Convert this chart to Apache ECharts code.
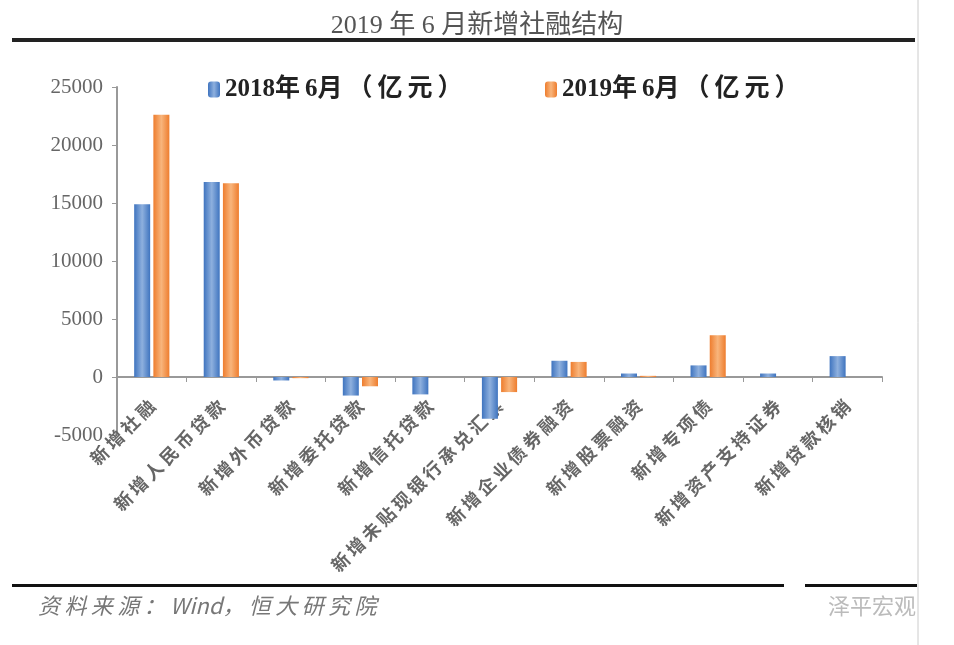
<!DOCTYPE html>
<html>
<head>
<meta charset="utf-8">
<script src="https://cdn.jsdelivr.net/npm/echarts@6/dist/echarts.min.js"></script>
<style>
html, body { margin: 0; padding: 0; background: #fff; }
#chart { width: 954px; height: 645px; }
</style>
</head>
<body>
<div id="chart"></div>
<script>
// 分类
var categories = ['新增社融', '新增人民币贷款', '新增外币贷款', '新增委托贷款', '新增信托贷款',
	'新增未贴现银行承兑汇票', '新增企业债券融资', '新增股票融资', '新增专项债', '新增资产支持证券', '新增贷款核销'];
// 2018年6月（亿元）
var values2018 = [14900, 16800, -300, -1600, -1500, -3600, 1400, 300, 1000, 300, 1800];
// 2019年6月（亿元）
var values2019 = [22600, 16700, -100, -800, 0, -1300, 1300, 100, 3600, 0, 0];
var yTicks = [-5000, 25000, 5000]; // min, max, interval

var serif = '"Liberation Serif", "Noto Sans CJK SC", serif';

function barColor(edge, mid) {
	return {
		type: 'linear', x: 0, y: 0, x2: 1, y2: 0,
		colorStops: [
			{ offset: 0, color: edge },
			{ offset: 0.5, color: mid },
			{ offset: 1, color: edge }
		]
	};
}
// 字间加细空格，模仿原图较松的字距
function spaced(s) {
	return s.split('').join('\u2009');
}
// 只在汉字后加细空格，数字保持紧凑
function spacedCJK(s) {
	return s.replace(/([^\x00-\x7f])/g, '$1\u2009');
}

var legendText = { fontFamily: serif, fontSize: 25, fontWeight: 'bold', color: '#222' };

var chart = echarts.init(document.getElementById('chart'));
chart.setOption({
	backgroundColor: '#fff',
	animation: false,
	title: {
		text: '2019 年 6 月新增社融结构',
		left: 'center',
		top: 8,
		textStyle: { fontFamily: serif, fontSize: 26, fontWeight: 'normal', color: '#555' }
	},
	legend: [
		{
			top: 72, left: 203, itemWidth: 12, itemHeight: 16,
			textStyle: legendText,
			formatter: spacedCJK,
			data: ['2018年6月（亿元）']
		},
		{
			top: 72, left: 540, itemWidth: 12, itemHeight: 16,
			textStyle: legendText,
			formatter: spacedCJK,
			data: ['2019年6月（亿元）']
		}
	],
	grid: { left: 117, right: 72, top: 87, bottom: 210 },
	xAxis: {
		type: 'category',
		data: categories,
		axisLine: { onZero: true, lineStyle: { color: '#999', width: 2 } },
		axisTick: { show: true, length: 5, lineStyle: { color: '#999' } },
		axisLabel: {
			rotate: 45,
			interval: 0,
			margin: -32,
			fontFamily: '"Noto Sans CJK SC", sans-serif',
			fontSize: 18,
			fontWeight: 'bold',
			color: '#666',
			formatter: spaced
		}
	},
	yAxis: {
		type: 'value',
		min: yTicks[0],
		max: yTicks[1],
		interval: yTicks[2],
		axisLine: { show: true, lineStyle: { color: '#999', width: 2 } },
		axisTick: { show: true, length: 5, lineStyle: { color: '#999' } },
		splitLine: { show: false },
		axisLabel: {
			fontFamily: serif, fontSize: 21, color: '#666', margin: 14,
			formatter: function (v) { return String(v); }
		}
	},
	series: [
		{
			name: '2018年6月（亿元）',
			type: 'bar',
			data: values2018,
			barWidth: 16,
			barGap: '20%',
			itemStyle: { color: barColor('#3f74bf', '#8eb0de') }
		},
		{
			name: '2019年6月（亿元）',
			type: 'bar',
			data: values2019,
			barWidth: 16,
			itemStyle: { color: barColor('#ee7d2e', '#f8b57c') }
		}
	],
	graphic: [
		{ type: 'rect', shape: { x: 12, y: 38, width: 903, height: 4 }, style: { fill: '#222' } },
		{ type: 'rect', shape: { x: 12, y: 584, width: 772, height: 3 }, style: { fill: '#111' } },
		{ type: 'rect', shape: { x: 805, y: 584, width: 112, height: 3 }, style: { fill: '#111' } },
		{ type: 'line', shape: { x1: 918, y1: 0, x2: 918, y2: 645 }, style: { stroke: '#ccc', lineWidth: 1 } },
		{
			type: 'text', left: 38, top: 595,
			style: { text: spacedCJK('资料来源：Wind，恒大研究院'), font: 'italic 22px "Noto Sans CJK SC"', fill: '#777' }
		},
		{
			type: 'text', left: 828, top: 595,
			style: { text: '泽平宏观', font: '22px "Noto Sans CJK SC"', fill: '#bbb' }
		}
	]
});
</script>
</body>
</html>
